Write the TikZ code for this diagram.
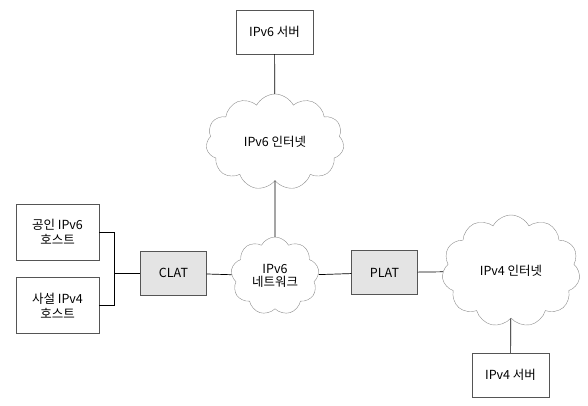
\documentclass[tikz,border=0pt]{standalone}
\usepackage{fontspec}
\setmainfont{Noto Sans CJK KR}
\usetikzlibrary{shapes.symbols}
\definecolor{boxline}{HTML}{555555}
\definecolor{cloudline}{HTML}{8C8C8C}
\definecolor{natfill}{HTML}{E4E4E4}
\begin{document}
\begin{tikzpicture}[x=1pt,y=-1pt,font=\fontsize{12.5}{15}\selectfont,
  host box/.style={rectangle,draw=boxline,minimum width=77pt,minimum height=44pt,align=center},
  nat box/.style={host box,fill=natfill,minimum width=66pt},
  net cloud/.style={cloud,draw=cloudline,cloud puffs=11,cloud puff arc=125,cloud ignores aspect,align=center,inner sep=0pt}]
\tikzstyle{link} = [draw,black,line width=0.7pt]

\useasboundingbox (0,0) rectangle (588,405);

% servers
\node[host box] (srv6) at (274.5,32) {IPv6 서버};
\node[host box] (srv4) at (510.5,375) {IPv4 서버};

% clouds
\node[net cloud,minimum width=138pt,minimum height=96pt] (inet6) at (275,142) {IPv6 인터넷};
\node[net cloud,cloud puffs=9,minimum width=88pt,minimum height=78pt] (net6) at (275,276) {IPv6\\[-2pt]네트워크};
\node[net cloud,minimum width=138pt,minimum height=112pt] (inet4) at (511,271) {IPv4 인터넷};

% translators
\node[nat box] (clat) at (173.5,273) {CLAT};
\node[nat box] (plat) at (384.5,272.5) {PLAT};

% hosts
\node[host box,minimum width=83pt,minimum height=56pt] (pubhost) at (57.5,232) {공인 IPv6\\호스트};
\node[host box,minimum width=83pt,minimum height=56pt] (privhost) at (57.5,305.5) {사설 IPv4\\호스트};
\coordinate (join) at (114,273);

% links
\draw[link] (srv6) -- (inet6);
\draw[link] (inet6) -- (net6);
\draw[link] (pubhost.east) -| (join);
\draw[link] (privhost.east) -| (join);
\draw[link] (join) -- (clat.west);
\draw[link] (clat) -- (net6);
\draw[link] (net6) -- (plat);
\draw[link] (plat) -- (inet4);
\draw[link] (inet4) -- (srv4);

\end{tikzpicture}
\end{document}
